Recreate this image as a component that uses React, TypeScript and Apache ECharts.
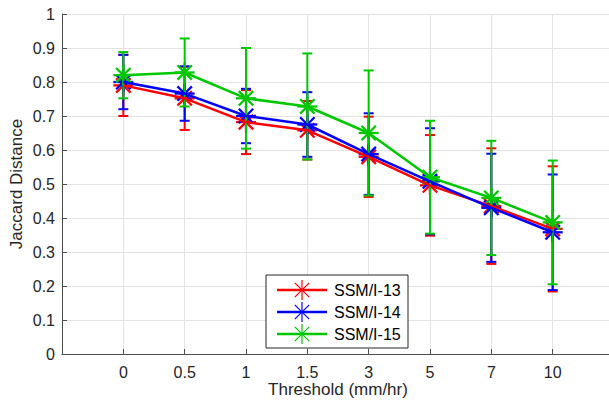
import React, { useEffect, useRef } from "react";
import * as echarts from "echarts";

const categories = ["0", "0.5", "1", "1.5", "3", "5", "7", "10"];
const yTicks = [0, 0.1, 0.2, 0.3, 0.4, 0.5, 0.6, 0.7, 0.8, 0.9, 1];

const ssm13Mean = [0.79, 0.752, 0.682, 0.658, 0.58, 0.496, 0.435, 0.368];
const ssm13Err = [0.09, 0.093, 0.094, 0.086, 0.118, 0.148, 0.17, 0.184];
const ssm14Mean = [0.8, 0.766, 0.7, 0.675, 0.588, 0.508, 0.43, 0.358];
const ssm14Err = [0.08, 0.08, 0.08, 0.095, 0.12, 0.156, 0.159, 0.17];
const ssm15Mean = [0.82, 0.828, 0.752, 0.728, 0.65, 0.52, 0.459, 0.387];
const ssm15Err = [0.068, 0.1, 0.148, 0.156, 0.184, 0.166, 0.168, 0.182];

const seriesNames = ["SSM/I-13", "SSM/I-14", "SSM/I-15"];
const seriesColors = ["#ff0000", "#0000ff", "#00c800"];

const FONT = "'Liberation Sans', Arial, sans-serif";

function asteriskLines(cx: number, cy: number, color: string, lw: number, r: number, z?: number) {
  const d = r * 0.72;
  const segs = [
    [cx - r, cy, cx + r, cy],
    [cx, cy - r, cx, cy + r],
    [cx - d, cy - d, cx + d, cy + d],
    [cx - d, cy + d, cx + d, cy - d],
  ];
  return segs.map((s) => {
    const el: any = {
      type: "line",
      shape: { x1: s[0], y1: s[1], x2: s[2], y2: s[3] },
      style: { stroke: color, lineWidth: lw },
    };
    if (z !== undefined) el.z = z;
    return el;
  });
}

export default function App() {
  const ref = useRef<HTMLDivElement>(null);
  useEffect(() => {
    if (!ref.current) return;
    document.documentElement.style.overflow = "hidden";
    document.body.style.overflow = "hidden";
    document.body.style.margin = "0";
    const chart = echarts.init(ref.current, null, { renderer: "svg" });
    const means = [ssm13Mean, ssm14Mean, ssm15Mean];
    const errs = [ssm13Err, ssm14Err, ssm15Err];
    const series: any[] = [];
    means.forEach((m, si) => {
      const color = seriesColors[si];
      series.push({
        type: "line",
        name: seriesNames[si],
        data: m.map((v, i) => [i, v]),
        showSymbol: false,
        symbol: "none",
        lineStyle: { color, width: 2.5 },
        itemStyle: { color },
        z: 3,
      });
      series.push({
        type: "custom",
        name: seriesNames[si] + " err",
        data: m.map((v, i) => [i, v, errs[si][i]]),
        encode: { x: 0, y: 1 },
        z: 3,
        renderItem: (params: any, api: any) => {
          const x = api.value(0);
          const v = api.value(1);
          const e = api.value(2);
          const top = api.coord([x, v + e]);
          const bot = api.coord([x, v - e]);
          const c = api.coord([x, v]);
          const hw = 5;
          const st = { stroke: color, lineWidth: 2 };
          return {
            type: "group",
            children: [
              { type: "line", shape: { x1: top[0], y1: top[1], x2: bot[0], y2: bot[1] }, style: st },
              { type: "line", shape: { x1: top[0] - hw, y1: top[1], x2: top[0] + hw, y2: top[1] }, style: st },
              { type: "line", shape: { x1: bot[0] - hw, y1: bot[1], x2: bot[0] + hw, y2: bot[1] }, style: st },
              ...asteriskLines(c[0], c[1], color, 2.3, 10),
            ],
          };
        },
      });
    });

    const legendX = 266;
    const legendY = 275;
    const legendChildren: any[] = [
      {
        type: "rect",
        z: 100,
        shape: { x: legendX, y: legendY, width: 142, height: 73 },
        style: { fill: "#ffffff", stroke: "#262626", lineWidth: 1 },
      },
    ];
    seriesNames.forEach((n, i) => {
      const cy = legendY + 15 + i * 22;
      const color = seriesColors[i];
      legendChildren.push({
        type: "line",
        z: 101,
        shape: { x1: legendX + 11, y1: cy, x2: legendX + 61, y2: cy },
        style: { stroke: color, lineWidth: 2.5 },
      });
      legendChildren.push(...asteriskLines(legendX + 36, cy, color, 1.2, 10, 102));
      legendChildren.push({
        type: "text",
        z: 102,
        x: legendX + 68,
        y: cy,
        style: {
          text: n,
          fill: "#000000",
          font: `16px ${FONT}`,
          verticalAlign: "middle",
          align: "left",
        },
      });
    });

    chart.setOption({
      animation: false,
      backgroundColor: "#ffffff",
      grid: { left: 62, top: 14, width: 552, height: 340, containLabel: false, outerBoundsMode: "none" },
      xAxis: {
        type: "value",
        min: -1,
        max: 8,
        interval: 1,
        name: "Threshold (mm/hr)",
        nameLocation: "middle",
        nameGap: 27,
        nameMoveOverlap: false,
        nameTextStyle: { fontFamily: FONT, fontSize: 17, color: "#262626" },
        axisLine: { show: true, onZero: false, lineStyle: { color: "#4d4d4d", width: 1 } },
        axisTick: { show: true, inside: true, length: 5, lineStyle: { color: "#4d4d4d" } },
        axisLabel: {
          fontFamily: FONT,
          fontSize: 16,
          color: "#262626",
          margin: 10,
          showMinLabel: false,
          showMaxLabel: false,
          formatter: (v: number) => (v >= 0 && v < categories.length ? categories[v] : ""),
        },
        splitLine: {
          show: true,
          showMinLine: false,
          showMaxLine: false,
          lineStyle: { color: "#e3e3e3", width: 1 },
        },
      },
      yAxis: {
        type: "value",
        min: yTicks[0],
        max: yTicks[yTicks.length - 1],
        interval: 0.1,
        name: "Jaccard Distance",
        nameLocation: "middle",
        nameGap: 37,
        nameMoveOverlap: false,
        nameTextStyle: { fontFamily: FONT, fontSize: 17, color: "#262626" },
        axisLine: { show: true, onZero: false, lineStyle: { color: "#4d4d4d", width: 1 } },
        axisTick: { show: true, inside: true, length: 5, lineStyle: { color: "#4d4d4d" } },
        axisLabel: {
          fontFamily: FONT,
          fontSize: 16,
          color: "#262626",
          margin: 7,
          formatter: (v: number) => {
            const r = Math.round(v * 10) / 10;
            return r === 0 || r === 1 ? String(r) : r.toFixed(1);
          },
        },
        splitLine: { show: true, lineStyle: { color: "#e3e3e3", width: 1 } },
      },
      series,
      graphic: [{ type: "group", z: 100, children: legendChildren }],
    });
    return () => chart.dispose();
  }, []);
  return (
    <div
      ref={ref}
      style={{ position: "absolute", left: 0, top: 0, width: 609, height: 401 }}
    />
  );
}
